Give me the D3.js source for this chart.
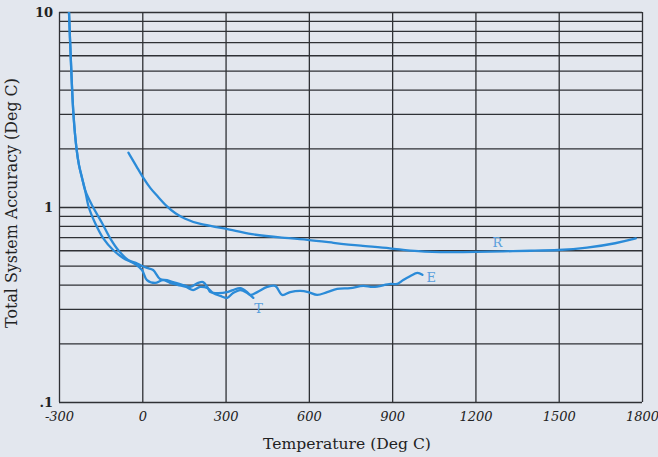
<!DOCTYPE html>
<html>
<head>
<meta charset="utf-8">
<script src="https://cdn.jsdelivr.net/npm/d3@7"></script>
<style>
body { margin: 0; background: #e3e7ee; }
svg { display: block; }
</style>
</head>
<body>
<script>
// axis ticks
var xTicks = [-300, 0, 300, 600, 900, 1200, 1500, 1800];
var yTicks = [0.1, 1, 10];
var yTickLabels = [".1", "1", "10"];
var yGrid = [0.1, 0.2, 0.3, 0.4, 0.5, 0.6, 0.7, 0.8, 0.9, 1, 2, 3, 4, 5, 6, 7, 8, 9, 10];

// type T thermocouple
var tempT = [-264, -258, -248, -237, -228, -217, -206, -193, -170, -141, -105, -69, -26, -1, 17, 46, 75, 100, 129, 158, 183, 208, 234, 255, 281, 306, 327, 353, 378, 400];
var accT  = [10, 6.0, 3.0, 2.0, 1.64, 1.41, 1.22, 1.0, 0.828, 0.693, 0.602, 0.548, 0.51, 0.475, 0.422, 0.408, 0.422, 0.408, 0.398, 0.389, 0.375, 0.389, 0.384, 0.362, 0.35, 0.342, 0.362, 0.375, 0.362, 0.342];

// type E thermocouple
var tempE = [-264, -258, -248, -237, -228, -217, -206, -181, -145, -116, -87, -51, -22, -8, 17, 39, 64, 89, 111, 147, 172, 201, 219, 234, 245, 270, 306, 327, 353, 378, 389, 414, 450, 479, 504, 533, 569, 598, 630, 666, 702, 749, 796, 832, 894, 919, 940, 966, 991, 1009];
var accE  = [10, 6.0, 3.0, 2.0, 1.64, 1.41, 1.22, 1.02, 0.828, 0.693, 0.602, 0.535, 0.516, 0.504, 0.487, 0.475, 0.427, 0.422, 0.412, 0.398, 0.389, 0.408, 0.412, 0.389, 0.366, 0.362, 0.366, 0.375, 0.384, 0.366, 0.354, 0.366, 0.389, 0.394, 0.354, 0.366, 0.371, 0.366, 0.354, 0.366, 0.38, 0.384, 0.394, 0.389, 0.403, 0.403, 0.422, 0.443, 0.459, 0.449];

// type R thermocouple
var tempR = [-50, -19, 3, 30, 53, 89, 120, 147, 208, 300, 390, 508, 594, 688, 785, 894, 990, 1110, 1200, 1300, 1400, 1500, 1600, 1710, 1778];
var accR  = [1.9, 1.6, 1.41, 1.24, 1.145, 1.0, 0.925, 0.878, 0.81, 0.78, 0.72, 0.695, 0.68, 0.655, 0.632, 0.616, 0.59, 0.585, 0.588, 0.592, 0.597, 0.6, 0.615, 0.652, 0.69];

// curve labels
var curveNames = ["T", "E", "R"];
var labelTemp = [419, 1041, 1279];
var labelAcc = [0.286, 0.413, 0.624];

(function() {
	var W = 658, H = 457;
	var pl = 59, pr = 642, pt = 12, pb = 402;

	var svg = d3.select("body").append("svg").attr("width", W).attr("height", H);
	svg.append("rect").attr("width", W).attr("height", H).attr("fill", "#e3e7ee");

	var x = d3.scaleLinear().domain([-300, 1800]).range([pl, pr]);
	var y = d3.scaleLog().domain([0.1, 10]).range([pb, pt]);

	// horizontal grid
	svg.append("g").attr("class", "hgrid")
		.attr("transform", "translate(" + pl + ",0)")
		.call(d3.axisLeft(y).tickValues(yGrid).tickSize(-(pr - pl)).tickFormat(""))
		.call(function(g) {
			g.select(".domain").remove();
			g.selectAll("line").attr("stroke", "#2f3135").attr("stroke-width", 1.3);
		});

	// vertical grid
	svg.append("g").attr("class", "vgrid")
		.attr("transform", "translate(0," + pb + ")")
		.call(d3.axisBottom(x).tickValues(xTicks).tickSize(-(pb - pt)).tickFormat(""))
		.call(function(g) {
			g.select(".domain").remove();
			g.selectAll("line").attr("stroke", "#2f3135").attr("stroke-width", 1.3);
		});

	// x tick labels
	svg.append("g")
		.attr("transform", "translate(0," + pb + ")")
		.call(d3.axisBottom(x).tickValues(xTicks).tickSize(0).tickPadding(10).tickFormat(function(d) { return String(d); }))
		.call(function(g) {
			g.select(".domain").remove();
			g.selectAll("text").attr("font-family", "DejaVu Serif").attr("font-style", "italic")
				.attr("font-size", 13).attr("fill", "#222");
		});

	// y tick labels
	svg.append("g")
		.attr("transform", "translate(" + pl + ",0)")
		.call(d3.axisLeft(y).tickValues(yTicks).tickSize(0).tickPadding(6).tickFormat(function(d, i) { return yTickLabels[i]; }))
		.call(function(g) {
			g.select(".domain").remove();
			g.selectAll("text").attr("font-family", "DejaVu Serif").attr("font-weight", "bold")
				.attr("font-size", 13).attr("fill", "#222");
		});

	// curves: T and E follow the readings closely, R is drawn smooth
	var px = function(d) { return x(d[0]); }, py = function(d) { return y(d[1]); };
	var wiggly = d3.line().x(px).y(py).curve(d3.curveCatmullRom);
	var smooth = d3.line().x(px).y(py).curve(d3.curveBasis);
	var series = [
		{pts: d3.zip(tempT, accT), gen: wiggly},
		{pts: d3.zip(tempE, accE), gen: wiggly},
		{pts: d3.zip(tempR, accR), gen: smooth}
	];

	svg.append("defs").append("clipPath").attr("id", "plot")
		.append("rect").attr("x", pl).attr("y", pt).attr("width", pr - pl).attr("height", pb - pt);

	svg.append("g").attr("clip-path", "url(#plot)")
		.selectAll("path").data(series).enter().append("path")
		.attr("d", function(s) { return s.gen(s.pts); })
		.attr("fill", "none")
		.attr("stroke", "#2b8bd8")
		.attr("stroke-width", 2.3)
		.attr("stroke-linejoin", "round")
		.attr("stroke-linecap", "round");

	svg.append("g").selectAll("text").data(curveNames).enter().append("text")
		.attr("x", function(d, i) { return x(labelTemp[i]); })
		.attr("y", function(d, i) { return y(labelAcc[i]); })
		.attr("text-anchor", "middle")
		.attr("font-family", "DejaVu Serif")
		.attr("font-size", 13)
		.attr("fill", "#5a9fdc")
		.text(function(d) { return d; });

	// axis titles, sized to the span they take in the chart
	function fit(t, target) {
		var len = t.node().getComputedTextLength();
		t.attr("font-size", 13 * target / len);
	}

	var xt = svg.append("text")
		.attr("x", 347).attr("y", 449)
		.attr("text-anchor", "middle")
		.attr("font-family", "DejaVu Serif").attr("font-size", 13).attr("fill", "#222")
		.text("Temperature (Deg C)");
	fit(xt, 168);

	var yt = svg.append("text")
		.attr("transform", "translate(17,203) rotate(-90)")
		.attr("text-anchor", "middle")
		.attr("font-family", "DejaVu Serif").attr("font-size", 13).attr("fill", "#222")
		.text("Total System Accuracy (Deg C)");
	fit(yt, 250);
})();
</script>
</body>
</html>
